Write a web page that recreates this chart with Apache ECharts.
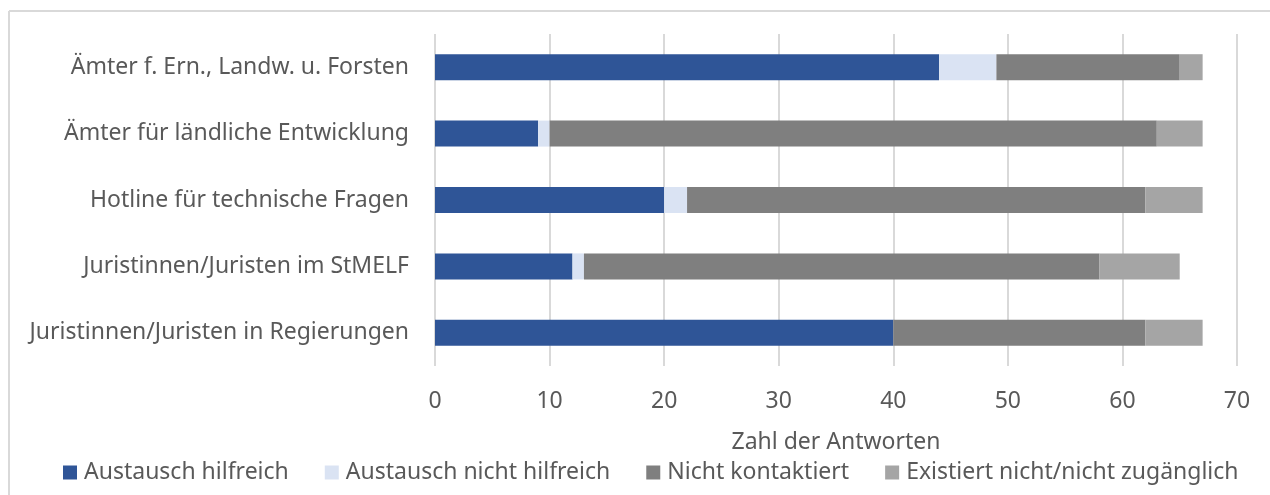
<!DOCTYPE html>
<html>
<head>
<meta charset="utf-8">
<script src="https://cdn.jsdelivr.net/npm/echarts@6/dist/echarts.min.js"></script>
<style>
  html, body { margin: 0; padding: 0; background: #fff; }
  #chart { width: 1270px; height: 495px; }
</style>
</head>
<body>
<div id="chart"></div>
<script>
  const categories = [
    'Ämter f. Ern., Landw. u. Forsten',
    'Ämter für ländliche Entwicklung',
    'Hotline für technische Fragen',
    'Juristinnen/Juristen im StMELF',
    'Juristinnen/Juristen in Regierungen'
  ]
  const seriesNames = ['Austausch hilfreich', 'Austausch nicht hilfreich', 'Nicht kontaktiert', 'Existiert nicht/nicht zugänglich']
  const hilfreich = [44, 9, 20, 12, 40]
  const nichtHilfreich = [5, 1, 2, 1, 0]
  const nichtKontaktiert = [16, 53, 40, 45, 22]
  const existiertNicht = [2, 4, 5, 7, 5]
  const colors = ['#2F5597', '#DAE3F3', '#7F7F7F', '#A5A5A5']

  const textColor = '#595959'
  const font = '"Noto Sans", sans-serif'
  const fontSize = 23

  const chart = echarts.init(document.getElementById('chart'))

  const values = [hilfreich, nichtHilfreich, nichtKontaktiert, existiertNicht]

  let option = {
    animation: false,
    textStyle: { fontFamily: font },
    color: colors,
    graphic: [
      { type: 'line', shape: { x1: 9, y1: 11, x2: 1270, y2: 11 }, style: { stroke: '#d9d9d9', lineWidth: 2 } },
      { type: 'line', shape: { x1: 9, y1: 11, x2: 9, y2: 495 }, style: { stroke: '#d9d9d9', lineWidth: 2 } }
    ],
    grid: {
      left: 435,
      right: 33,
      top: 34,
      bottom: 129
    },
    legend: {
      bottom: 6,
      left: 58,
      itemWidth: 14,
      itemHeight: 14,
      itemGap: 36,
      icon: 'rect',
      textStyle: { color: textColor, fontSize: fontSize, fontFamily: font, padding: [0, 0, 0, 2] },
      data: seriesNames
    },
    xAxis: {
      type: 'value',
      min: 0,
      max: 70,
      interval: 10,
      name: 'Zahl der Antworten',
      nameLocation: 'middle',
      nameGap: 65,
      nameTextStyle: { color: textColor, fontSize: fontSize, fontFamily: font },
      axisLine: { show: false },
      axisTick: { show: false },
      axisLabel: { color: textColor, fontSize: fontSize, margin: 24, fontFamily: font },
      splitLine: { lineStyle: { color: '#d9d9d9', width: 2 } }
    },
    yAxis: {
      type: 'category',
      inverse: true,
      data: categories,
      axisLine: { show: false },
      axisTick: { show: false },
      axisLabel: { color: textColor, fontSize: fontSize, margin: 26, fontFamily: font }
    },
    series: seriesNames.map((name, i) => ({
      name: name,
      type: 'bar',
      stack: 'total',
      barWidth: 26,
      data: values[i],
      itemStyle: { color: colors[i] }
    }))
  }

  chart.setOption(option)
</script>
</body>
</html>
